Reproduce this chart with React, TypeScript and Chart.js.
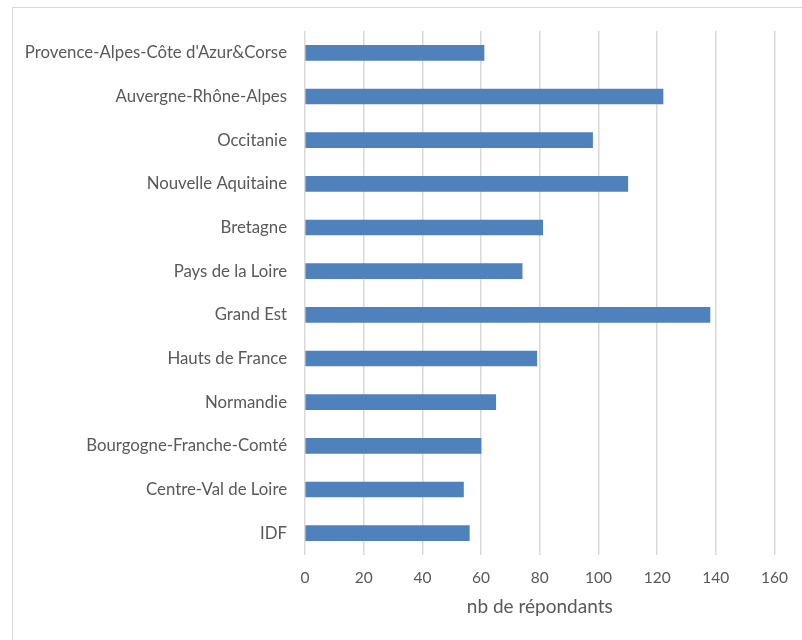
import React, { useEffect, useRef } from "react";
import { Chart, registerables } from "chart.js";

Chart.register(...registerables);

const categories = [
  "Provence-Alpes-Côte d'Azur&Corse",
  "Auvergne-Rhône-Alpes",
  "Occitanie",
  "Nouvelle Aquitaine",
  "Bretagne",
  "Pays de la Loire",
  "Grand Est",
  "Hauts de France",
  "Normandie",
  "Bourgogne-Franche-Comté",
  "Centre-Val de Loire",
  "IDF",
];

const respondents = [61, 122, 98, 110, 81, 74, 138, 79, 65, 60, 54, 56];

const axisMin = 0;
const axisMax = 160;
const axisStep = 20;
const axisTitle = "nb de répondants";

const FONT = "Lato, 'Open Sans', sans-serif";
const TEXT = "#595959";
const GRID = "#d9d9d9";

export default function App() {
  const ref = useRef<HTMLCanvasElement | null>(null);

  useEffect(() => {
    if (!ref.current) return;
    const chart = new Chart(ref.current, {
      type: "bar",
      data: {
        labels: categories,
        datasets: [
          {
            data: respondents,
            backgroundColor: "#4F81BD",
            borderWidth: 0,
            barThickness: 15,
          },
        ],
      },
      options: {
        indexAxis: "y",
        responsive: false,
        animation: false,
        layout: { padding: { top: 31, right: 22, left: 0, bottom: 18 } },
        plugins: { legend: { display: false }, tooltip: { enabled: false } },
        scales: {
          x: {
            min: axisMin,
            max: axisMax,
            ticks: {
              stepSize: axisStep,
              color: TEXT,
              font: { family: FONT, size: 15.5 },
              padding: 14,
            },
            grid: { color: GRID, lineWidth: 1.5, drawTicks: false },
            border: { display: false },
            title: {
              display: true,
              text: axisTitle,
              color: TEXT,
              font: { family: FONT, size: 19 },
              padding: { top: 0, bottom: 4 },
            },
            afterFit: (s: any) => {
              s.height = 67;
            },
          },
          y: {
            ticks: {
              color: TEXT,
              font: { family: FONT, size: 16.8 },
              padding: 18,
            },
            grid: { display: false, drawTicks: false },
            border: { display: false },
            afterFit: (s: any) => {
              s.width = 305;
            },
          },
        },
      },
    });
    return () => chart.destroy();
  }, []);

  return (
    <div
      style={{
        position: "fixed",
        left: 0,
        top: 0,
        width: 802,
        height: 640,
        background: "#fff",
        overflow: "hidden",
      }}
    >
      <div
        style={{
          position: "absolute",
          left: 12,
          top: 7,
          width: 820,
          height: 660,
          border: `1.5px solid ${GRID}`,
        }}
      />
      <canvas
        ref={ref}
        width={802}
        height={640}
        style={{ position: "absolute", left: 0, top: 0 }}
      />
    </div>
  );
}
